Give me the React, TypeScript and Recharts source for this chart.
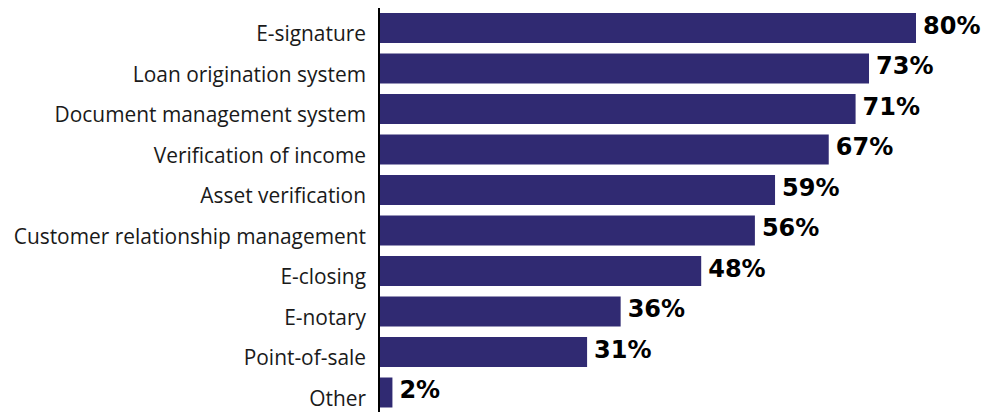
import { BarChart, Bar, XAxis, YAxis, LabelList } from 'recharts';

// カテゴリと値
const categories = [
  'E-signature',
  'Loan origination system',
  'Document management system',
  'Verification of income',
  'Asset verification',
  'Customer relationship management',
  'E-closing',
  'E-notary',
  'Point-of-sale',
  'Other',
];
const shares = [80, 73, 71, 67, 59, 56, 48, 36, 31, 2];

const data = categories.map((name, i) => ({ name, value: shares[i] }));

const LABEL_FONT = '"Open Sans", Roboto, sans-serif';
const VALUE_FONT = '"DejaVu Sans", Roboto, sans-serif';

const CategoryTick = ({ x, y, payload }: any) => (
  <text
    x={x}
    y={y}
    dy={5}
    textAnchor="end"
    dominantBaseline="central"
    fill="#1a1a1a"
    fontSize={20.9}
    fontFamily={LABEL_FONT}
  >
    {payload.value}
  </text>
);

export default function App() {
  return (
    <div
      style={{
        position: 'fixed',
        top: 0,
        left: 0,
        width: 995,
        height: 412,
        overflow: 'hidden',
        background: '#fff',
      }}
    >
      <BarChart
        width={995}
        height={413}
        data={data}
        layout="vertical"
        margin={{ top: 8, right: 79, bottom: 0, left: 0 }}
        barCategoryGap={0}
      >
        <XAxis type="number" domain={[0, 80]} hide />
        <YAxis
          type="category"
          dataKey="name"
          width={379}
          tickLine={false}
          tickMargin={7}
          axisLine={{ stroke: '#000', strokeWidth: 2 }}
          tick={<CategoryTick />}
          interval={0}
        />
        <Bar dataKey="value" fill="#302a72" barSize={30} isAnimationActive={false}>
          <LabelList
            dataKey="value"
            position="right"
            offset={7}
            formatter={(v: any) => `${v}%`}
            style={{
              fontSize: 24,
              fontWeight: 700,
              fontFamily: VALUE_FONT,
              fill: '#000',
            }}
            dy={-3}
          />
        </Bar>
      </BarChart>
    </div>
  );
}
